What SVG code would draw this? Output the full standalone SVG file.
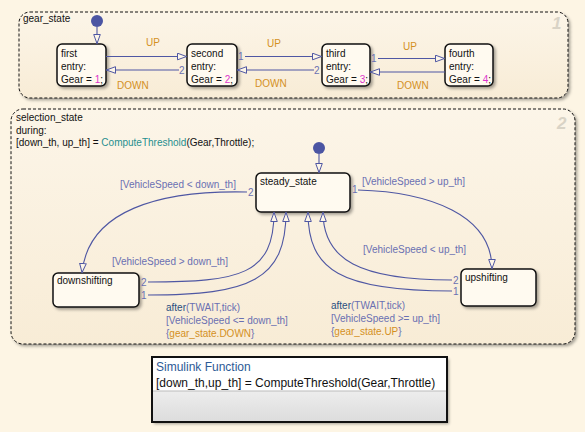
<svg xmlns="http://www.w3.org/2000/svg" width="585" height="432" viewBox="0 0 585 432">
<defs>
<style>
text{font-family:"Liberation Sans",Arial,sans-serif;font-size:10px;fill:#111}
.super{stroke:#111;stroke-width:1;stroke-dasharray:3,2;fill:url(#sg)}
.st{stroke:#111;stroke-width:1.5;fill:#fffaf0}
.tr{fill:none;stroke:#4f57a3;stroke-width:1.1}
.lbl{fill:#6a70b2}
.ev{fill:#d4901e}
.num{fill:#6a70b2}
.mag{fill:#dd33cc}
.teal{fill:#1f8f8f}
.navy{fill:#2a4f80}
.big{font-size:17px;font-weight:bold;font-style:italic;fill:#d9d3c6}
.dot{fill:#4b55a3}
</style>
<linearGradient id="sg" x1="0" y1="0" x2="0" y2="1">
<stop offset="0" stop-color="#fcf5e8"/>
<stop offset="1" stop-color="#f8ecd6"/>
</linearGradient>
<linearGradient id="fg" x1="0" y1="0" x2="0" y2="1">
<stop offset="0" stop-color="#ffffff"/>
<stop offset="1" stop-color="#dcdcdc"/>
</linearGradient>
<filter id="sh" x="-10%" y="-10%" width="130%" height="130%">
<feDropShadow dx="2" dy="2" stdDeviation="1.5" flood-color="#000" flood-opacity="0.35"/>
</filter>
<marker id="ah" viewBox="0 0 10 8" refX="10" refY="4" markerWidth="10" markerHeight="8" markerUnits="userSpaceOnUse" orient="auto">
<path d="M0.5,0.7 L9.5,4 L0.5,7.3 Z" fill="#fdf6e8" stroke="#4f57a3" stroke-width="1"/>
</marker>
</defs>
<rect width="585" height="432" fill="#fdf5e4"/>

<g id="gear_state">
<rect class="super" x="19" y="12" width="549" height="86" rx="11" filter="url(#sh)"/>
<text x="23" y="22">gear_state</text>
<text class="big" x="552" y="29">1</text>
</g>

<g id="first">
<rect class="st" x="57" y="44" width="49" height="42" rx="5" filter="url(#sh)"/>
<text x="61" y="57">first</text>
<text x="61" y="70">entry:</text>
<text x="61" y="83">Gear = <tspan class="mag">1</tspan>;</text>
</g>
<g id="second">
<rect class="st" x="187" y="44" width="50" height="42" rx="5" filter="url(#sh)"/>
<text x="191" y="57">second</text>
<text x="191" y="70">entry:</text>
<text x="191" y="83">Gear = <tspan class="mag">2</tspan>;</text>
</g>
<g id="third">
<rect class="st" x="322" y="44" width="48" height="42" rx="5" filter="url(#sh)"/>
<text x="326" y="57">third</text>
<text x="326" y="70">entry:</text>
<text x="326" y="83">Gear = <tspan class="mag">3</tspan>;</text>
</g>
<g id="fourth">
<rect class="st" x="445" y="44" width="48" height="42" rx="5" filter="url(#sh)"/>
<text x="449" y="57">fourth</text>
<text x="449" y="70">entry:</text>
<text x="449" y="83">Gear = <tspan class="mag">4</tspan>;</text>
</g>

<g id="selection_state">
<rect class="super" x="11" y="109" width="564" height="235" rx="12" filter="url(#sh)"/>
<text x="16" y="121">selection_state</text>
<text x="16" y="134">during:</text>
<text x="16" y="146">[down_th, up_th] = <tspan class="teal">ComputeThreshold</tspan>(Gear,Throttle);</text>
<text class="big" x="557" y="129">2</text>
</g>

<g id="steady_state">
<rect class="st" x="256" y="173" width="94" height="39" rx="5" filter="url(#sh)"/>
<text x="260" y="185">steady_state</text>
</g>
<g id="downshifting">
<rect class="st" x="53" y="273" width="86" height="34" rx="5" filter="url(#sh)"/>
<text x="57" y="284">downshifting</text>
</g>
<g id="upshifting">
<rect class="st" x="461" y="269" width="75" height="37" rx="5" filter="url(#sh)"/>
<text x="465" y="281">upshifting</text>
</g>

<g id="simulink_function">
<rect x="152" y="357" width="295" height="65" fill="url(#fg)" filter="url(#sh)"/>
<rect x="152" y="357" width="295" height="34" fill="#ffffff"/>
<line x1="152" y1="391" x2="447" y2="391" stroke="#bbbbbb" stroke-width="1"/>
<rect x="152" y="357" width="295" height="65" fill="none" stroke="#111" stroke-width="2"/>
<text x="156" y="371" style="font-size:12px;fill:#2d5a96">Simulink Function</text>
<text x="156" y="387" style="font-size:12px">[down_th,up_th] = ComputeThreshold(Gear,Throttle)</text>
</g>

<g id="connectors">
<circle class="dot" cx="97" cy="21" r="6"/>
<path class="tr" d="M97,27 L97,44" marker-end="url(#ah)"/>
<path class="tr" d="M106,56.5 L187,56.5" marker-end="url(#ah)"/>
<text class="ev" x="146" y="46">UP</text>
<path class="tr" d="M179,70 L106,70" marker-end="url(#ah)"/>
<text class="num" x="179" y="74">2</text>
<text class="ev" x="117" y="89">DOWN</text>

<path class="tr" d="M245,56.5 L322,56.5" marker-end="url(#ah)"/>
<text class="num" x="238" y="60">1</text>
<text class="ev" x="267" y="47">UP</text>
<path class="tr" d="M314,70 L237,70" marker-end="url(#ah)"/>
<text class="num" x="314" y="74">2</text>
<text class="ev" x="255" y="87">DOWN</text>

<path class="tr" d="M378,58.5 L445,58.5" marker-end="url(#ah)"/>
<text class="num" x="371" y="62">1</text>
<text class="ev" x="403" y="50">UP</text>
<path class="tr" d="M445,72 L370,72" marker-end="url(#ah)"/>
<text class="ev" x="397" y="89">DOWN</text>

<circle class="dot" cx="319" cy="148" r="6"/>
<path class="tr" d="M319,154 L319,173" marker-end="url(#ah)"/>

<path class="tr" d="M247,192 C160,190 88,210 82,273" marker-end="url(#ah)"/>
<text class="num" x="248" y="196">2</text>
<text class="lbl" x="120" y="188">[VehicleSpeed &lt; down_th]</text>

<path class="tr" d="M148,282 C240,282 274,275 274,212" marker-end="url(#ah)"/>
<text class="num" x="141" y="286">2</text>
<text class="lbl" x="112" y="265">[VehicleSpeed &gt; down_th]</text>

<path class="tr" d="M148,295 C250,295 286,280 286,212" marker-end="url(#ah)"/>
<text class="num" x="141" y="299">1</text>
<text class="lbl" x="166" y="311"><tspan class="navy">after</tspan>(TWAIT,tick)</text>
<text class="lbl" x="166" y="324">[VehicleSpeed &lt;= down_th]</text>
<text class="lbl" x="166" y="337">{<tspan class="ev">gear_state.DOWN</tspan>}</text>

<path class="tr" d="M358,190 C430,192 492,215 492,269" marker-end="url(#ah)"/>
<text class="num" x="352" y="193">1</text>
<text class="lbl" x="362" y="185">[VehicleSpeed &gt; up_th]</text>

<path class="tr" d="M452,280 C360,280 323,260 323,212" marker-end="url(#ah)"/>
<text class="num" x="453" y="284">2</text>
<text class="lbl" x="363" y="253">[VehicleSpeed &lt; up_th]</text>

<path class="tr" d="M452,291 C340,291 308,270 308,212" marker-end="url(#ah)"/>
<text class="num" x="453" y="295">1</text>
<text class="lbl" x="331" y="309"><tspan class="navy">after</tspan>(TWAIT,tick)</text>
<text class="lbl" x="331" y="322">[VehicleSpeed &gt;= up_th]</text>
<text class="lbl" x="331" y="335">{<tspan class="ev">gear_state.UP</tspan>}</text>
</g>
</svg>
